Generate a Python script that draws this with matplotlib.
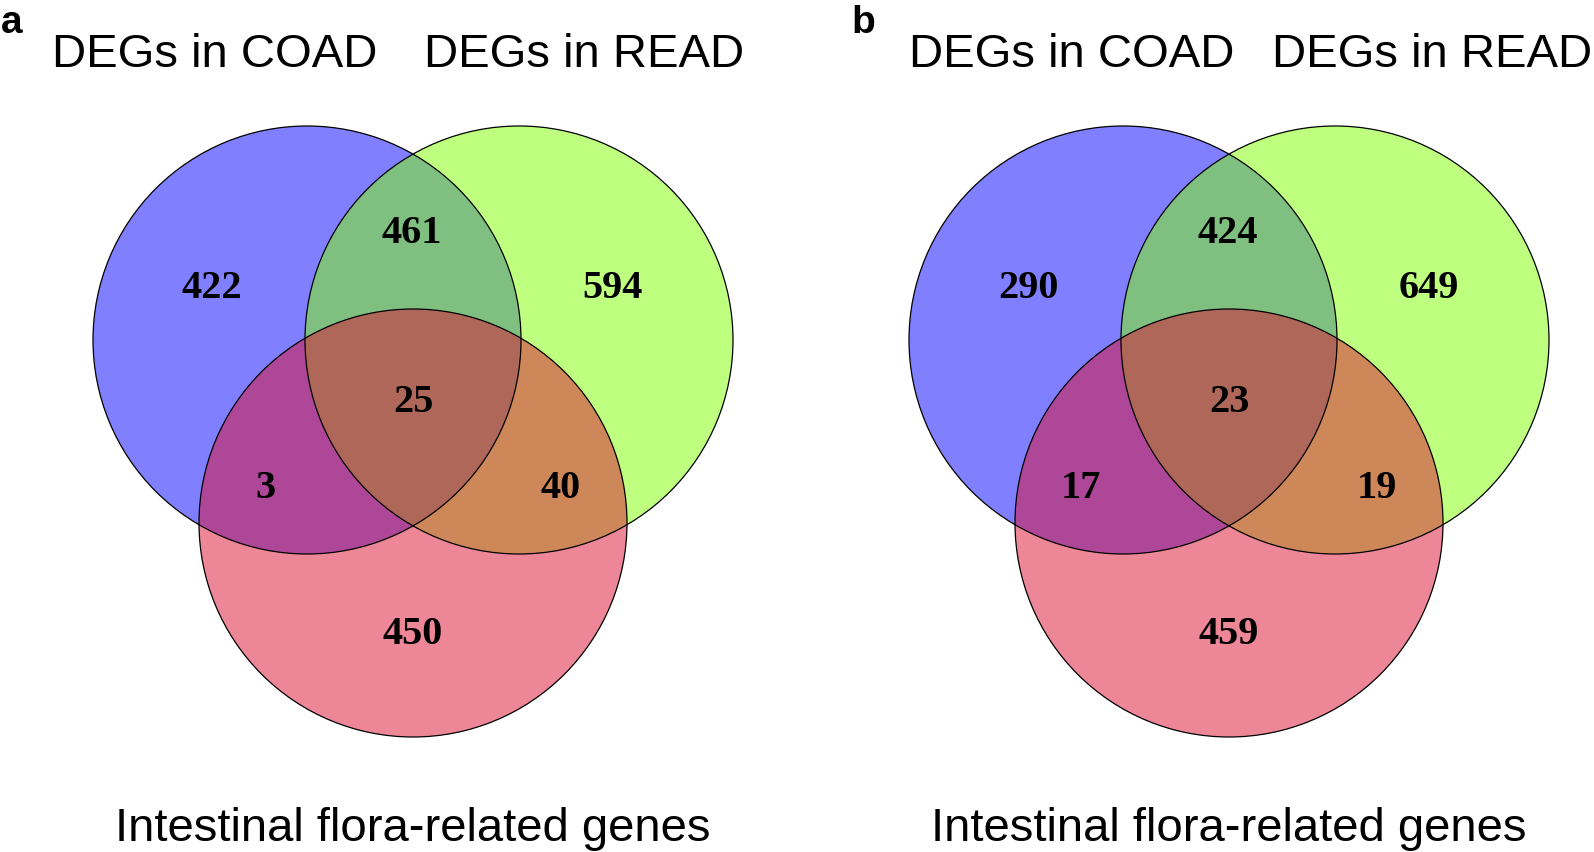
import matplotlib
matplotlib.use("Agg")
import matplotlib.pyplot as plt
from matplotlib.patches import Circle

# ---- data ----
panel_letters = ["a", "b"]
set_labels = ["DEGs in COAD", "DEGs in READ", "Intestinal flora-related genes"]
set_colors = ["#0000FF", "#7FFF00", "#DD1133"]
# region order: only COAD, only READ, only flora, COAD&READ, COAD&flora, READ&flora, all three
counts_a = [422, 594, 450, 461, 3, 40, 25]
counts_b = [290, 649, 459, 424, 17, 19, 23]
panel_counts = [counts_a, counts_b]

# ---- layout (pixels, y downward) ----
W, H = 1594, 853
fig = plt.figure(figsize=(W / 100, H / 100), dpi=100)
ax = fig.add_axes([0, 0, 1, 1])
ax.set_xlim(0, W)
ax.set_ylim(H, 0)
ax.set_aspect("equal")
ax.axis("off")

R = 214
circle_centers = [(307, 341), (519, 341), (413, 524)]
region_pos = [(212, 288), (613, 288), (413, 634), (412, 233), (265, 488), (561, 488), (413, 403)]
panel_shift = [0, 816]
coad_label_x = [215, 1072]
read_label_right = [744, 1592]
letter_x = [1, 851]

num_font = dict(family="Liberation Serif", weight="bold", size=29)
lab_font = dict(family="Liberation Sans", size=34)

for p in range(2):
    dx = panel_shift[p]
    for (cx, cy), col in zip(circle_centers, set_colors):
        ax.add_patch(Circle((cx + dx, cy), R, facecolor=col, alpha=0.5,
                            edgecolor="none", zorder=1))
    for (cx, cy) in circle_centers:
        ax.add_patch(Circle((cx + dx, cy), R, facecolor="none",
                            edgecolor="black", linewidth=0.9, zorder=2))
    for (x, y), n in zip(region_pos, panel_counts[p]):
        ax.text(x + dx, y, str(n), ha="center", va="center",
                zorder=3, **num_font)
    ax.text(coad_label_x[p], 67, set_labels[0], ha="center", va="baseline", **lab_font)
    ax.text(read_label_right[p], 67, set_labels[1], ha="right", va="baseline", **lab_font)
    ax.text(413 + dx, 841, set_labels[2], ha="center", va="baseline", **lab_font)
    ax.text(letter_x[p], 33, panel_letters[p], ha="left", va="baseline",
            family="Liberation Sans", weight="bold", size=28)

fig.savefig("out.png", dpi=100, facecolor="white")
